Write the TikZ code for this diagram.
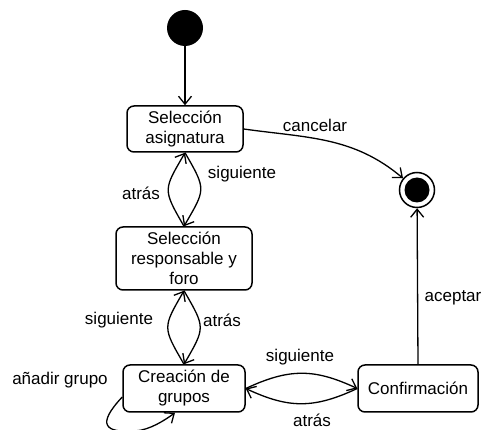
\documentclass[tikz,border=0pt]{standalone}
\usepackage{fontspec}
\setmainfont{Liberation Sans}
\usetikzlibrary{arrows.meta}
\begin{document}
\begin{tikzpicture}[x=1pt,y=-1pt,
  every node/.style={font=\fontsize{17}{20}\selectfont},
  state/.style={draw, line width=1.5pt, rounded corners=7pt, align=center, inner sep=0pt},
  lbl/.style={inner sep=0pt},
  tr/.style={line width=1.3pt, -{Straight Barb[length=8pt,width=13pt,line width=1.3pt]}}]
\useasboundingbox (0,0) rectangle (485,430);
\clip (0,0) rectangle (485,430);
\fill[white] (0,0) rectangle (485,430);
% nodes
\node[circle, fill=black, minimum size=36pt, inner sep=0pt] (init) at (185,28) {};
\node[circle, draw, line width=1.5pt, minimum size=35pt, inner sep=0pt] (fin) at (417,190) {};
\fill (fin.center) circle (12.5pt);
\node[state, minimum width=116pt, minimum height=46pt] (s1) at (185,129) {Selección\\asignatura};
\node[state, minimum width=136pt, minimum height=63pt] (s2) at (184,258.5) {Selección\\responsable y\\foro};
\node[state, minimum width=122pt, minimum height=47pt] (s3) at (184,388.5) {Creación de\\grupos};
\node[state, minimum width=120pt, minimum height=47pt] (s4) at (418,388.5) {Confirmación};
% connectors
\draw[tr] (init) -- (s1);
\draw[tr] (s1.east) to[out=-8, in=140] (fin);
\draw[tr] (s1.south) to[out=-60, in=60, looseness=1.5] (s2.north);
\draw[tr] (s2.north) to[out=120, in=-120, looseness=1.5] (s1.south);
\draw[tr] (s3.north) to[out=120, in=-120, looseness=1.5] (s2.south);
\draw[tr] (s2.south) to[out=-60, in=60, looseness=1.5] (s3.north);
\draw[tr] (s3.east) to[out=25, in=155, looseness=1.1] (s4.west);
\draw[tr] (s4.west) to[out=-155, in=-25, looseness=1.1] (s3.east);
\draw[tr] (s4.north) -- (fin);
\draw[tr] (s3.west |- 0,397) .. controls (96,425) and (105,433) .. (135,431)
  .. controls (150,430) and (165,420) .. (s3.south -| 175,0);
% labels
\node[lbl] (l1) at (315,125) {cancelar};
\node[lbl] (l2) at (242,174) {siguiente};
\node[lbl] (l3) at (141,193) {atrás};
\node[lbl] (l4) at (119,320) {siguiente};
\node[lbl] (l5) at (222,320) {atrás};
\node[lbl] (l6) at (60,380) {añadir grupo};
\node[lbl] (l7) at (300,357) {siguiente};
\node[lbl] (l8) at (312,420) {atrás};
\node[lbl] (l9) at (453,298) {aceptar};
\end{tikzpicture}
\end{document}
